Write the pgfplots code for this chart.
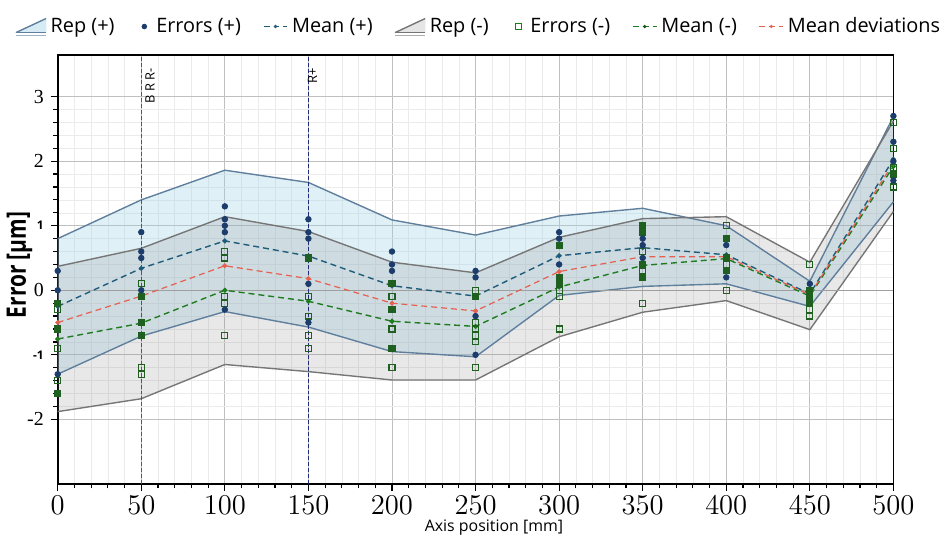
\documentclass[border=0pt]{standalone}
\usepackage{fontspec}
\setmainfont{Liberation Serif}
\setsansfont{Open Sans}
\usepackage{pgfplots}
\pgfplotsset{compat=1.18}
\usepgfplotslibrary{fillbetween}

\definecolor{repblue}{HTML}{5F7F9C}
\definecolor{repbluefill}{HTML}{A4D3E6}
\definecolor{repgray}{HTML}{767676}
\definecolor{meanplus}{HTML}{1D5C7A}
\definecolor{meanminus}{HTML}{1E7B1E}
\definecolor{meandev}{HTML}{E5604F}
\definecolor{errplus}{HTML}{1C3D6B}
\definecolor{errminus}{HTML}{1F5F1F}
\definecolor{vlineA}{HTML}{2A6A6A}
\definecolor{vlineB}{HTML}{222A7A}

% x, Rep(+) upper/lower, Mean(+), Rep(-) upper/lower, Mean(-), Mean deviations
\pgfplotstableread{
x   pu     pl     mp      mu     ml     mm      md
0   0.80  -1.30  -0.25   0.37  -1.88  -0.755  -0.50
50  1.40  -0.71   0.34   0.65  -1.68  -0.51   -0.09
100 1.86  -0.33   0.765  1.14  -1.15   0.00    0.38
150 1.67  -0.57   0.53   0.91  -1.26  -0.17    0.18
200 1.09  -0.95   0.07   0.435 -1.39  -0.48   -0.20
250 0.855 -1.03  -0.09   0.27  -1.39  -0.56   -0.32
300 1.15  -0.08   0.535  0.82  -0.72   0.05    0.29
350 1.27   0.06   0.66   1.11  -0.34   0.385   0.52
400 1.00   0.10   0.55   1.14  -0.16   0.49    0.52
450 0.14  -0.25  -0.055  0.435 -0.61  -0.09   -0.07
500 2.69   1.37   2.03   2.62   1.22   1.92    1.97
}\reptable

\pgfplotstableread{
x y
0 0.3
0 0.0
0 -1.3
50 0.9
50 0.6
50 0.5
50 0.0
100 1.3
100 1.1
100 1.0
100 0.9
100 -0.3
150 1.1
150 0.9
150 0.8
150 0.1
150 -0.5
200 0.6
200 0.4
200 0.3
250 0.3
250 0.2
250 -0.4
250 -1.0
300 0.9
300 0.8
300 0.4
350 0.8
350 0.7
350 0.5
400 0.7
400 0.2
450 0.1
500 2.7
500 2.3
500 2.0
500 1.7
}\errplus

\pgfplotstableread{
x y
0 -0.3
0 -0.9
0 -1.4
50 0.1
50 -1.2
50 -1.3
100 0.6
100 0.5
100 -0.1
100 -0.2
100 -0.7
150 -0.1
150 -0.4
150 -0.7
150 -0.9
200 -0.1
200 -0.6
200 -1.2
250 0.0
250 -0.5
250 -0.6
250 -0.7
250 -0.8
250 -1.2
300 0.0
300 -0.1
300 -0.6
350 0.6
350 0.3
350 -0.2
400 1.0
400 0.4
400 0.0
450 0.4
450 -0.3
450 -0.4
500 2.6
500 2.2
500 1.9
500 1.6
}\errminusopen

\pgfplotstableread{
x y
0 -0.2
0 -0.6
0 -1.6
50 -0.1
50 -0.5
50 -0.7
150 0.5
200 0.1
200 -0.3
200 -0.9
250 -0.1
300 0.7
300 0.2
300 0.1
350 1.0
350 0.9
350 0.4
350 0.2
400 0.8
400 0.5
400 0.3
450 0.0
450 -0.1
450 -0.2
500 1.8
}\errminusfill

\begin{document}
\begin{tikzpicture}
\begin{axis}[
  width=420.5pt, height=216pt, scale only axis,
  xmin=0, xmax=500, ymin=-3, ymax=3.65,
  xtick={0,50,...,500}, minor x tick num=4,
  ytick={-2,-1,0,1,2,3},
  yticklabels={-2,{\sffamily\bfseries\fontsize{6}{7}\selectfont -1},0,{\sffamily\bfseries\fontsize{6}{7}\selectfont 1},2,3},
  minor y tick num=4,
  tick pos=left, tick align=outside,
  major tick length=3.5pt, minor tick length=2.2pt,
  tick style={black, line width=0.6pt},
  grid=both,
  major grid style={gray!50, line width=0.4pt},
  minor grid style={gray!16, line width=0.3pt},
  axis line style={black, line width=0.9pt},
  xticklabel style={font=\fontsize{13.5}{14}\selectfont, inner sep=2.5pt},
  yticklabel style={font=\fontsize{10}{11}\selectfont},
  xlabel={Axis position [mm]},
  xlabel style={font=\sffamily\fontsize{8}{9}\selectfont, at={(axis description cs:0.522,0)}, anchor=center, yshift=-22pt},
  ylabel={Error [µm]},
  ylabel style={font=\sffamily\bfseries\fontsize{13.5}{15}\selectfont, at={(axis description cs:-0.0458,0.51)}, anchor=center, xscale=0.78},
  legend columns=7,
  legend style={draw=none, fill=none, at={(0.505,1.025)}, anchor=south,
    font=\sffamily\fontsize{10}{11}\selectfont,
    /tikz/every even column/.append style={column sep=9pt}},
  legend cell align=left,
  clip=false,
]
% bands
\addplot[name path=pu, draw=repblue, line width=0.7pt, forget plot] table[x=x, y=pu] {\reptable};
\addplot[name path=pl, draw=repblue, line width=0.7pt, forget plot] table[x=x, y=pl] {\reptable};
\addplot[name path=mu, draw=repgray, line width=0.7pt, forget plot] table[x=x, y=mu] {\reptable};
\addplot[name path=ml, draw=repgray, line width=0.7pt, forget plot] table[x=x, y=ml] {\reptable};
\addplot[fill=repbluefill, fill opacity=0.35, draw=none, forget plot] fill between[of=pu and pl];
\addplot[fill=gray, fill opacity=0.18, draw=none, forget plot] fill between[of=mu and ml];

% zero line
\addplot[gray!75, line width=0.5pt, forget plot] coordinates {(0,0) (500,0)};

% reference lines
\addplot[vlineA, dash pattern=on 2pt off 1pt, line width=0.5pt, forget plot] coordinates {(50,-3) (50,3.65)};
\addplot[vlineB, dash pattern=on 2pt off 1pt, line width=0.5pt, forget plot] coordinates {(150,-3) (150,3.65)};
\node[rotate=90, anchor=east, font=\sffamily\fontsize{6.5}{7}\selectfont] at (axis cs:55.3,3.55) {B R R-};
\node[rotate=90, anchor=east, font=\sffamily\fontsize{6.5}{7}\selectfont] at (axis cs:152.4,3.55) {R+};

% means
\addplot[meanplus, densely dashed, line width=0.7pt, mark=*, mark size=0.9pt, mark options={solid}, forget plot] table[x=x, y=mp] {\reptable};
\addplot[meanminus, densely dashed, line width=0.7pt, mark=*, mark size=0.9pt, mark options={solid}, forget plot] table[x=x, y=mm] {\reptable};
\addplot[meandev, densely dashed, line width=0.6pt, mark=*, mark size=0.9pt, mark options={solid}, forget plot] table[x=x, y=md] {\reptable};

% errors
\addplot[only marks, mark=square, mark size=1.5pt, mark options={errminus, fill=white, line width=0.6pt}, forget plot] table[x=x, y=y] {\errminusopen};
\addplot[only marks, mark=square*, mark size=1.5pt, mark options={errminus, fill=errminus, line width=0.6pt}, forget plot] table[x=x, y=y] {\errminusfill};
\addplot[only marks, mark=*, mark size=1.4pt, mark options={errplus, fill=errplus}, forget plot] table[x=x, y=y] {\errplus};

% keep the reference's margins around the axis
\path (rel axis cs:0,0) ++(-28.5pt,-25pt) (rel axis cs:1,1) ++(26pt,27.5pt);

% legend
\addlegendimage{legend image code/.code={
  \fill[repbluefill!45] (0pt,-3pt) -- (15pt,4pt) -- (15pt,-3pt) -- cycle;
  \draw[repblue, line width=0.7pt] (0pt,-3pt) -- (15pt,4pt);
  \draw[repblue, line width=0.7pt] (0pt,-3pt) -- (15pt,-3pt);
  \draw[repblue!60, line width=0.5pt] (0pt,-4.3pt) -- (15pt,-4.3pt);}}
\addlegendentry{Rep (+)}
\addlegendimage{legend image code/.code={
  \path[draw=none, fill=none] (0pt,-1pt) rectangle (8pt,1pt);
  \fill[errplus, draw=none] (4pt,0pt) circle (1.4pt);}}
\addlegendentry{Errors (+)}
\addlegendimage{legend image code/.code={
  \draw[meanplus, densely dashed, line width=0.7pt] (0pt,0pt) -- (12pt,0pt);
  \fill[meanplus, draw=none] (6pt,0pt) circle (0.9pt);}}
\addlegendentry{Mean (+)}
\addlegendimage{legend image code/.code={
  \fill[gray!20] (0pt,-3pt) -- (15pt,4pt) -- (15pt,-3pt) -- cycle;
  \draw[repgray, line width=0.7pt] (0pt,-3pt) -- (15pt,4pt);
  \draw[repgray, line width=0.7pt] (0pt,-3pt) -- (15pt,-3pt);
  \draw[repgray!60, line width=0.5pt] (0pt,-4.3pt) -- (15pt,-4.3pt);}}
\addlegendentry{Rep (-)}
\addlegendimage{legend image code/.code={
  \path[draw=none, fill=none] (0pt,-1pt) rectangle (8pt,1pt);
  \draw[draw=errminus!80!green, fill=white, solid, line width=0.6pt] (2.5pt,-1.5pt) rectangle (5.5pt,1.5pt);}}
\addlegendentry{Errors (-)}
\addlegendimage{legend image code/.code={
  \draw[meanminus, densely dashed, line width=0.7pt] (0pt,0pt) -- (12pt,0pt);
  \fill[meanminus!70!black, draw=none] (6pt,0pt) circle (0.9pt);}}
\addlegendentry{Mean (-)}
\addlegendimage{legend image code/.code={
  \draw[meandev, densely dashed, line width=0.6pt] (0pt,0pt) -- (12pt,0pt);
  \fill[meandev, draw=none] (6pt,0pt) circle (0.9pt);}}
\addlegendentry{Mean deviations}
\end{axis}
\end{tikzpicture}
\end{document}
